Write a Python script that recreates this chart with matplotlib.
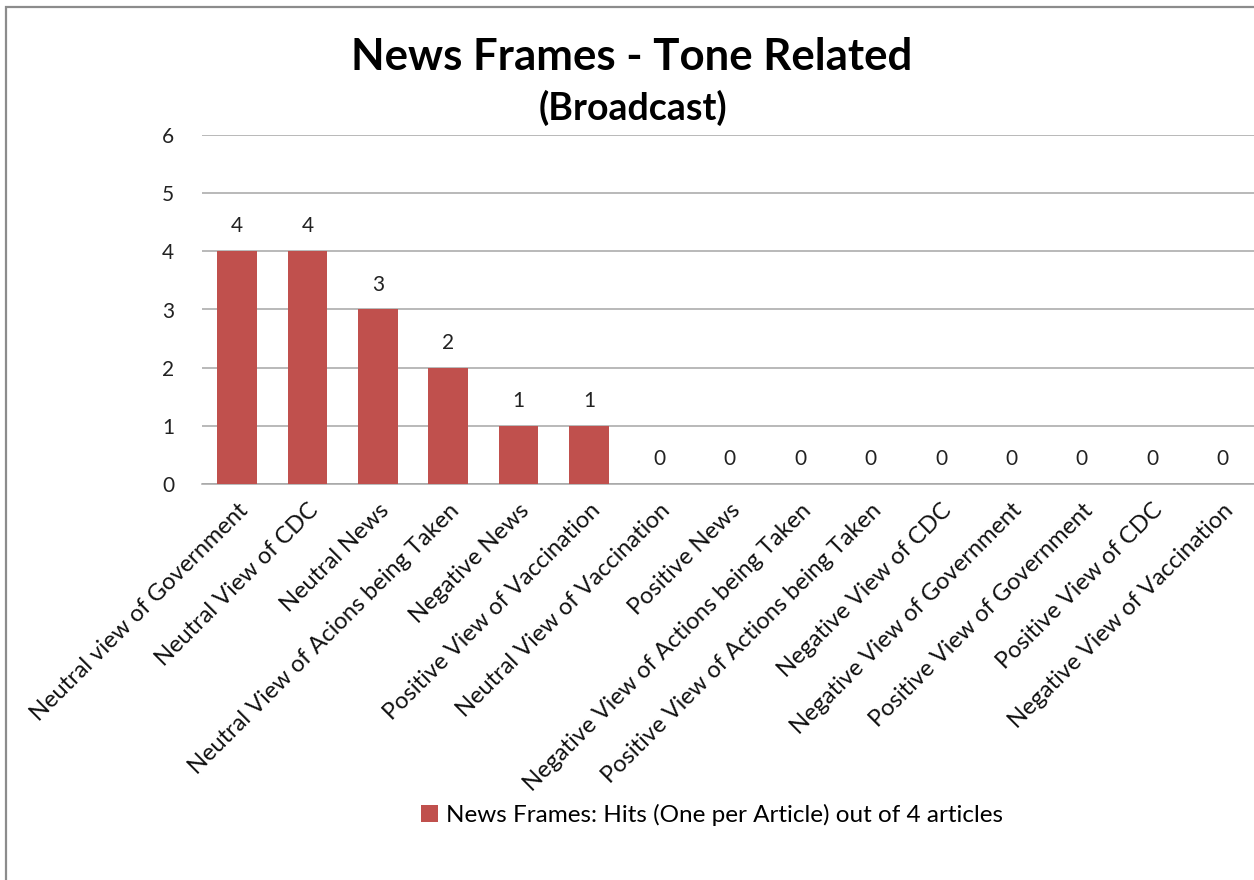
import matplotlib
matplotlib.use("Agg")
import matplotlib.pyplot as plt
from matplotlib.patches import Rectangle
import numpy as np

plt.rcParams["font.family"] = ["Lato", "DejaVu Sans"]

categories = [
    "Neutral view of Government",
    "Neutral View of CDC",
    "Neutral News",
    "Neutral View of Acions being Taken",
    "Negative News",
    "Positive View of Vaccination",
    "Neutral View of Vaccination",
    "Positive News",
    "Negative View of Actions being Taken",
    "Positive View of Actions being Taken",
    "Negative View of CDC",
    "Negative View of Government",
    "Positive View of Government",
    "Positive View of CDC",
    "Negative View of Vaccination",
]
hits = [4, 4, 3, 2, 1, 1, 0, 0, 0, 0, 0, 0, 0, 0, 0]
y_ticks = [0, 1, 2, 3, 4, 5, 6]
series_name = "News Frames: Hits (One per Article) out of 4 articles"
title = "News Frames - Tone Related"
subtitle = "(Broadcast)"

BAR = "#C0504D"
GRID = "#A6A6A6"

W, H = 1254, 880
fig = plt.figure(figsize=(W / 100, H / 100), dpi=100)

# outer chart border
fig.patches.append(Rectangle((6 / W, -0.05), 1.2, (H - 7) / H + 0.05,
                             transform=fig.transFigure, fill=False,
                             edgecolor="#8C8C8C", linewidth=1.6))

left, right = 201.8 / W, 1257.8 / W
bottom, top = (H - 484.3) / H, (H - 134.7) / H
ax = fig.add_axes([left, bottom, right - left, top - bottom])

x = np.arange(len(categories))
bars = ax.bar(x, hits, width=0.56, color=BAR, zorder=3,
              label=series_name)

ax.set_xlim(-0.5, len(categories) - 0.5)
ax.set_ylim(0, 6)
ax.set_yticks(y_ticks)
ax.set_yticklabels([str(t) for t in y_ticks], fontsize=15, color="#222222")
ax.yaxis.grid(True, color=GRID, linewidth=1.1, zorder=0)
ax.set_axisbelow(True)
for s in ["left", "right", "top"]:
    ax.spines[s].set_visible(False)
ax.spines["bottom"].set_color(GRID)
ax.spines["bottom"].set_linewidth(1.1)
ax.tick_params(axis="y", length=0, pad=20)
ax.tick_params(axis="x", length=0, pad=11)

ax.set_xticks(x)
ax.set_xticklabels(categories, rotation=45, ha="right",
                   rotation_mode="anchor", fontsize=17, color="#111111")

for xi, v in zip(x, hits):
    ax.annotate(str(v), (xi, v), xytext=(0, 18), textcoords="offset points",
                ha="center", va="center", fontsize=15, color="#222222")

fig.text(632 / W, 1 - 57 / H, title, ha="center", va="center",
         fontsize=31.5, fontweight="bold")
fig.text(633 / W, 1 - 108 / H, subtitle, ha="center", va="center",
         fontsize=27, fontweight="bold")

fig.legend(handles=[bars], labels=[series_name], loc="center",
           bbox_to_anchor=(712 / W, 1 - 815 / H), frameon=False,
           fontsize=17.5, handlelength=0.7, handleheight=0.7,
           handletextpad=0.35)

fig.savefig("out.png", dpi=100, facecolor="white")
